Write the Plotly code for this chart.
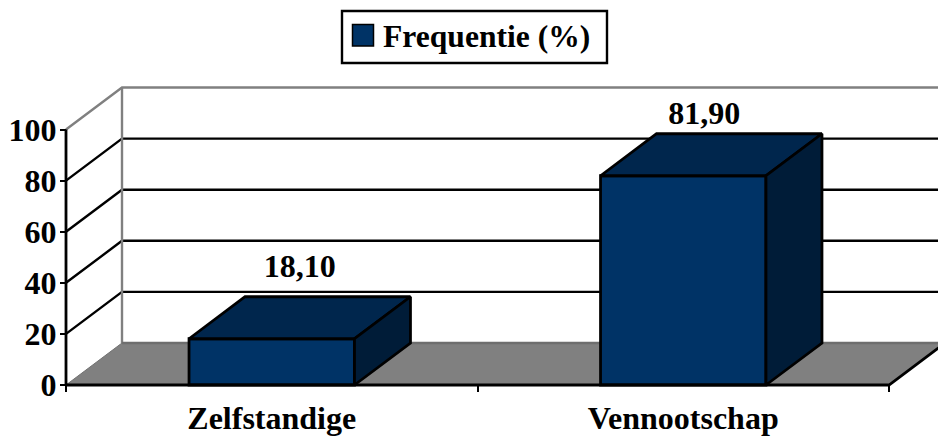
import plotly.graph_objects as go

categories = ["Zelfstandige", "Vennootschap"]
series_name = "Frequentie (%)"
values = [18.10, 81.90]
value_labels = ["18,10", "81,90"]
y_ticks = [0, 20, 40, 60, 80, 100]
label_lift_px = [12, 2]
label_shift_px = [0, -7]

W, H = 938, 436
X0, CAT_PX = 66, 411.5
Y0, UNIT_PX = 385, 2.555
DX = 56 / CAT_PX
DY = 42 / UNIT_PX
BAR = 0.402
EDGE = 2.8
FONT = dict(family="Liberation Serif", size=32, color="black")
LEGEND_FONT = dict(family="Liberation Serif", size=31.6, color="black")
FRONT, TOP, SIDE = "#003366", "#00264d", "#001c38"
FLOOR, WALL = "#808080", "#808080"

x_range = [-0.5 - X0 / CAT_PX, -0.5 + (W - X0) / CAT_PX]
y_range = [-(H - Y0) / UNIT_PX, Y0 / UNIT_PX]
x_lo, x_hi = -0.5, 1.5
y_hi = max(y_ticks)


def bold(s):
    return f"<b>{s}</b>"


def line(xs, ys, color, width, axes=("x", "y")):
    return go.Scatter(x=xs, y=ys, mode="lines", line=dict(color=color, width=width),
                      xaxis=axes[0], yaxis=axes[1], hoverinfo="skip", showlegend=False)


def poly(xs, ys, fill, axes=("x2", "y2")):
    return go.Scatter(x=xs + xs[:1], y=ys + ys[:1], mode="lines", fill="toself", fillcolor=fill,
                      line=dict(color="black", width=EDGE, shape="linear"),
                      xaxis=axes[0], yaxis=axes[1], hoverinfo="skip", showlegend=False)


fig = go.Figure()

# Floor and walls, on the base axes
fig.add_trace(go.Scatter(x=[x_lo, x_lo + DX, x_hi + DX, x_hi, x_lo], y=[0, DY, DY, 0, 0], mode="lines",
                         fill="toself", fillcolor=FLOOR, line=dict(color="#707070", width=1),
                         hoverinfo="skip", showlegend=False))
for t in y_ticks[1:-1]:
    fig.add_trace(line([x_lo, x_lo + DX, x_hi + DX], [t, t + DY, t + DY], "black", 2.4))
fig.add_trace(line([x_lo, x_lo + DX, x_hi + DX], [y_hi, y_hi + DY, y_hi + DY], WALL, 2.4))
fig.add_trace(line([x_lo + DX, x_lo + DX], [0 + DY, y_hi + DY], WALL, 2.4))
fig.add_trace(line([x_lo + DX, x_hi + DX], [DY, DY], "#6e6e6e", 2.4))

# Bars, on the overlaying axes so that they sit above the floor
xpos = list(range(len(categories)))
fig.add_trace(go.Bar(x=xpos, y=values, width=BAR, name=series_name,
                     marker=dict(color=FRONT, line=dict(color="black", width=EDGE)),
                     xaxis="x2", yaxis="y2", hoverinfo="skip", showlegend=False))
for p, v in zip(xpos, values):
    l, r = p - BAR / 2, p + BAR / 2
    fig.add_trace(poly([l, l + DX, r + DX, r], [v, v + DY, v + DY, v], TOP))
    fig.add_trace(poly([r, r + DX, r + DX, r], [0, DY, v + DY, v], SIDE))

# Axis lines in front
fig.add_trace(line([x_lo, x_lo], [0, y_hi], "black", EDGE, ("x2", "y2")))
fig.add_trace(line([x_lo, x_hi, x_hi + DX], [0, 0, DY], "black", EDGE, ("x2", "y2")))

# Value labels
fig.add_trace(go.Scatter(x=[p + DX / 2 + s / CAT_PX for p, s in zip(xpos, label_shift_px)],
                         y=[v + DY + lift / UNIT_PX for v, lift in zip(values, label_lift_px)],
                         mode="text", text=[bold(s) for s in value_labels], textposition="top center",
                         textfont=FONT, xaxis="x2", yaxis="y2", hoverinfo="skip", showlegend=False))

fig.update_layout(
    width=W, height=H, margin=dict(l=0, r=0, t=0, b=0), autosize=False,
    paper_bgcolor="white", plot_bgcolor="white", showlegend=False, barmode="overlay",
    xaxis=dict(domain=[0, 1], range=x_range, anchor="free", position=(H - Y0) / H,
               tickmode="array", tickvals=xpos, ticktext=[bold(c) for c in categories],
               ticks="", tickfont=FONT, showgrid=False, zeroline=False, showline=False,
               ticklabelstandoff=11,
               minor=dict(tickmode="array", tickvals=[-0.5, 0.5, 1.5], ticks="outside",
                          ticklen=6, tickwidth=2, tickcolor="black", showgrid=False)),
    yaxis=dict(domain=[0, 1], range=y_range, anchor="free", position=X0 / W,
               tickmode="array", tickvals=y_ticks, ticktext=[bold(t) for t in y_ticks],
               ticks="outside", ticklen=6, tickwidth=2, tickcolor="black", ticklabelstandoff=-3,
               tickfont=FONT, showgrid=False, zeroline=False, showline=False),
    xaxis2=dict(overlaying="x", range=x_range, visible=False, domain=[0, 1]),
    yaxis2=dict(overlaying="y", range=y_range, visible=False, domain=[0, 1]),
    shapes=[
        dict(type="rect", xref="paper", yref="paper", x0=342 / W, x1=607 / W, y0=1 - 63 / H, y1=1 - 11 / H,
             line=dict(color="black", width=2.4), fillcolor="white"),
        dict(type="rect", xref="paper", yref="paper", x0=352.5 / W, x1=373.5 / W, y0=1 - 46 / H, y1=1 - 24.5 / H,
             line=dict(color="black", width=1.5), fillcolor=FRONT),
    ],
    annotations=[
        dict(text=bold(series_name), xref="paper", yref="paper", x=381 / W, y=1 - 37 / H,
             xanchor="left", yanchor="middle", showarrow=False, font=LEGEND_FONT),
    ],
)

fig.write_html("out.html", config=dict(displayModeBar=False),
               post_script="document.documentElement.style.overflow='hidden';document.body.style.margin='0';")
